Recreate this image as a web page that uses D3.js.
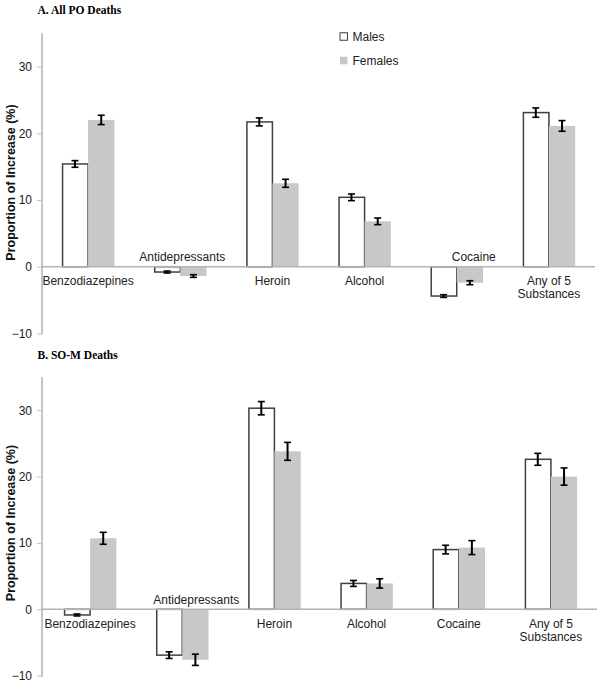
<!DOCTYPE html>
<html>
<head>
<meta charset="utf-8">
<script src="https://cdn.jsdelivr.net/npm/d3@7"></script>
<style>
  html, body { margin: 0; padding: 0; background: #fff; }
  svg { display: block; }
</style>
</head>
<body>
<svg id="chart" width="602" height="685"></svg>
<script>
// ---------- DATA ----------
const categories = ["Benzodiazepines", "Antidepressants", "Heroin", "Alcohol", "Cocaine", "Any of 5 Substances"];
const seriesNames = ["Males", "Females"];
const yTicks = [-10, 0, 10, 20, 30];

const panelTitles = ["A. All PO Deaths", "B. SO-M Deaths"];

// Panel A: All PO deaths
const aMales        = [15.4, -0.8, 21.7, 10.4, -4.4, 23.1];
const aMalesErr     = [0.5, 0.15, 0.6, 0.5, 0.2, 0.7];
const aFemales      = [22.0, -1.4, 12.5, 6.8, -2.4, 21.1];
const aFemalesErr   = [0.7, 0.2, 0.6, 0.5, 0.3, 0.8];

// Panel B: SO-M deaths
const bMales        = [-0.85, -6.9, 30.3, 3.9, 9.0, 22.6];
const bMalesErr     = [0.15, 0.5, 1.0, 0.45, 0.65, 0.9];
const bFemales      = [10.7, -7.6, 23.8, 3.9, 9.3, 20.0];
const bFemalesErr   = [0.9, 0.85, 1.35, 0.7, 1.05, 1.3];

// ---------- DRAWING ----------
const svg = d3.select("#chart");
const sans = "'Liberation Sans', Arial, sans-serif";
const serif = "'Liberation Serif', 'Times New Roman', serif";
const maleStroke = "#404040";
const femaleFill = "#c8c8c8";

const panels = [
  { title: panelTitles[0], males: aMales, mErr: aMalesErr, females: aFemales, fErr: aFemalesErr,
    titleY: 13.5, yRange: [333.4, 33.2], xRange: [42, 595], labelYCenter: 182.5,
    aboveShift: { "Antidepressants": 2, "Cocaine": 17 } },
  { title: panelTitles[1], males: bMales, mErr: bMalesErr, females: bFemales, fErr: bFemalesErr,
    titleY: 358.5, yRange: [675.7, 377], xRange: [44, 597], labelYCenter: 523,
    aboveShift: { "Antidepressants": 14, "Cocaine": 0 } }
];

const axisX = 42;

panels.forEach(p => {
  const g = svg.append("g");
  const y = d3.scaleLinear().domain([-10, 35]).range(p.yRange);
  const x = d3.scaleBand().domain(categories).range(p.xRange).paddingInner(0.43).paddingOuter(0.215);
  const xs = d3.scaleBand().domain(seriesNames).range([0, x.bandwidth()]);

  // title
  g.append("text").attr("x", 37.5).attr("y", p.titleY)
    .attr("font-family", serif).attr("font-weight", "bold").attr("font-size", 11.5)
    .attr("fill", "#000").text(p.title);

  // y axis
  const axis = d3.axisLeft(y).tickValues(yTicks).tickSize(5).tickPadding(5).tickFormat(d3.format("d"));
  const ag = g.append("g").attr("transform", `translate(${axisX},0)`).call(axis);
  ag.select(".domain").attr("stroke", "#c4c4c4").attr("stroke-width", 2)
    .attr("d", `M0,${y(-10) + 1}V${y(35)}`);
  ag.selectAll(".tick line").attr("stroke", "#c4c4c4").attr("stroke-width", 1);
  ag.selectAll(".tick text").attr("font-family", sans).attr("font-size", 12).attr("fill", "#222");

  // y axis label
  g.append("text")
    .attr("transform", `translate(15,${p.labelYCenter}) rotate(-90)`)
    .attr("text-anchor", "middle")
    .attr("font-family", sans).attr("font-weight", "bold").attr("font-size", 12.5)
    .attr("fill", "#111").text("Proportion of Increase (%)");

  const rows = categories.map((c, i) => ({
    cat: c,
    vals: [
      { s: "Males", v: p.males[i], e: p.mErr[i] },
      { s: "Females", v: p.females[i], e: p.fErr[i] }
    ]
  }));

  const cg = g.selectAll(".cat").data(rows).join("g")
    .attr("transform", d => `translate(${x(d.cat)},0)`);

  // bars
  cg.selectAll("rect").data(d => d.vals).join("rect")
    .attr("x", d => xs(d.s) + (d.s === "Males" ? 0.75 : 0))
    .attr("width", d => xs.bandwidth() - (d.s === "Males" ? 0.75 : 0))
    .attr("y", d => y(Math.max(0, d.v)))
    .attr("height", d => Math.abs(y(d.v) - y(0)))
    .attr("fill", d => d.s === "Males" ? "#fff" : femaleFill)
    .attr("stroke", d => d.s === "Males" ? maleStroke : "none")
    .attr("stroke-width", 1.5);

  // zero baseline
  g.append("line").attr("x1", axisX).attr("x2", p.xRange[1])
    .attr("y1", y(0)).attr("y2", y(0))
    .attr("stroke", "#b4b4b4").attr("stroke-width", 1.5);

  // error bars
  const eg = cg.selectAll(".err").data(d => d.vals).join("g")
    .attr("transform", d => `translate(${xs(d.s) + xs.bandwidth() / 2},0)`);
  eg.append("line").attr("x1", 0).attr("x2", 0)
    .attr("y1", d => y(d.v - d.e)).attr("y2", d => y(d.v + d.e))
    .attr("stroke", "#000").attr("stroke-width", 2);
  eg.append("line").attr("x1", -3.5).attr("x2", 3.5)
    .attr("y1", d => y(d.v - d.e)).attr("y2", d => y(d.v - d.e))
    .attr("stroke", "#000").attr("stroke-width", 1.6);
  eg.append("line").attr("x1", -3.5).attr("x2", 3.5)
    .attr("y1", d => y(d.v + d.e)).attr("y2", d => y(d.v + d.e))
    .attr("stroke", "#000").attr("stroke-width", 1.6);

  // category labels
  rows.forEach(r => {
    const above = r.vals.every(v => v.v < 0);
    const cx = x(r.cat) + x.bandwidth() / 2 + (above ? (p.aboveShift[r.cat] || 0) : 0);
    const words = r.cat === "Any of 5 Substances" ? ["Any of 5", "Substances"] : [r.cat];
    const t = g.append("text").attr("text-anchor", "middle")
      .attr("font-family", sans).attr("font-size", 12).attr("fill", "#222");
    const baseY = above ? y(0) - 10 + 4.3 : y(0) + 14 + 4.3;
    words.forEach((w, k) => {
      t.append("tspan").attr("x", cx).attr("y", baseY + k * 13.5).text(w);
    });
  });
});

// legend
const leg = svg.append("g");
const legItems = [
  { name: seriesNames[0], fill: "#fff", stroke: maleStroke, cy: 36.5 },
  { name: seriesNames[1], fill: femaleFill, stroke: "none", cy: 60.5 }
];
legItems.forEach(li => {
  leg.append("rect").attr("x", 340).attr("y", li.cy - 3.75).attr("width", 7.5).attr("height", 7.5)
    .attr("fill", li.fill).attr("stroke", li.stroke).attr("stroke-width", 1);
  leg.append("text").attr("x", 352.5).attr("y", li.cy + 4.3)
    .attr("font-family", sans).attr("font-size", 12).attr("fill", "#222").text(li.name);
});
</script>
</body>
</html>
